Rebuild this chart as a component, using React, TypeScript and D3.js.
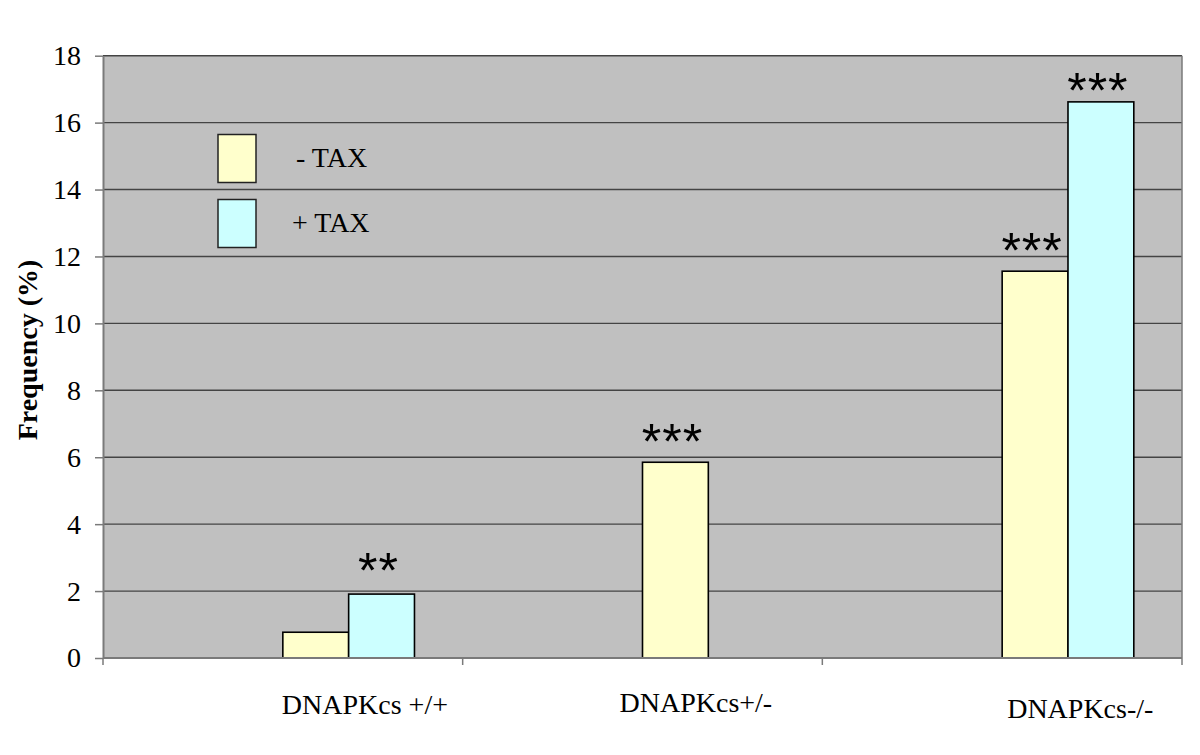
import React, { useRef, useEffect } from 'react';
import * as d3 from 'd3';

// data
const categories = ['DNAPKcs +/+', 'DNAPKcs+/-', 'DNAPKcs-/-'];
const seriesNames = ['- TAX', '+ TAX'];
const minusTax = [0.77, 5.85, 11.56];
const plusTax: (number | null)[] = [1.91, null, 16.62];
const minusTaxStars = ['', '***', '***'];
const plusTaxStars = ['**', '', '***'];
const yTicks = [0, 2, 4, 6, 8, 10, 12, 14, 16, 18];

const seriesColors = ['#FFFFCC', '#CCFFFF'];

// hand-placed text boxes in the original, nudged per category
const labelDx = [-1, -23, 5];
const labelY = [714, 712, 718];
const starDy = [[0, -6], [-3, 0], [-3, 6]];

const W = 1200;
const H = 755;

const App = () => {
    const svgRef = useRef<SVGSVGElement>(null);

    useEffect(() => {
        const svg = d3.select(svgRef.current).attr('width', W).attr('height', H);
        svg.selectAll('*').remove();

        const left = 103, right = 1182, top = 55.7, bottom = 658;

        const x = d3.scaleBand().domain(categories).range([left, right]);
        const bw = x.bandwidth();
        const barW = bw * 0.183;
        // bars start at the centre of each category
        const xSub = d3.scaleBand().domain(seriesNames).range([bw / 2, bw / 2 + 2 * barW]);
        const y = d3.scaleLinear().domain([0, 18]).range([bottom, top]);

        svg.append('rect')
            .attr('x', left).attr('y', top)
            .attr('width', right - left).attr('height', bottom - top)
            .attr('fill', '#C0C0C0');

        // gridlines
        svg.append('g')
            .selectAll('line')
            .data(yTicks.filter(d => d > 0))
            .enter()
            .append('line')
            .attr('x1', left).attr('x2', right)
            .attr('y1', d => y(d)).attr('y2', d => y(d))
            .attr('stroke', '#444')
            .attr('stroke-width', 1.4);

        // right border
        svg.append('line')
            .attr('x1', right).attr('x2', right)
            .attr('y1', top).attr('y2', bottom)
            .attr('stroke', '#7a7a7a').attr('stroke-width', 1.5);

        // bars
        const rows = categories.map((c, i) => [
            { cat: c, s: seriesNames[0], v: minusTax[i], star: minusTaxStars[i], dy: starDy[i][0], color: seriesColors[0] },
            { cat: c, s: seriesNames[1], v: plusTax[i], star: plusTaxStars[i], dy: starDy[i][1], color: seriesColors[1] },
        ]).flat().filter(d => d.v != null) as { cat: string; s: string; v: number; star: string; dy: number; color: string }[];

        svg.append('g')
            .selectAll('rect')
            .data(rows)
            .enter()
            .append('rect')
            .attr('x', d => (x(d.cat) as number) + (xSub(d.s) as number))
            .attr('y', d => y(d.v))
            .attr('width', xSub.bandwidth())
            .attr('height', d => y(0) - y(d.v))
            .attr('fill', d => d.color)
            .attr('stroke', '#000')
            .attr('stroke-width', 1.6);

        // significance stars
        svg.append('g')
            .selectAll('text')
            .data(rows.filter(d => d.star))
            .enter()
            .append('text')
            .attr('x', d => (x(d.cat) as number) + (xSub(d.s) as number) + xSub.bandwidth() / 2 - 3)
            .attr('y', d => y(d.v) + d.dy)
            .attr('text-anchor', 'middle')
            .attr('font-family', '"Liberation Sans", Arial, sans-serif')
            .attr('font-size', 50)
            .attr('letter-spacing', 1)
            .attr('fill', '#000')
            .text(d => d.star);

        // y axis
        const yAxis = svg.append('g')
            .attr('transform', `translate(${left},0)`)
            .call(d3.axisLeft(y).tickValues(yTicks).tickSize(8).tickPadding(14).tickSizeOuter(0));
        yAxis.select('.domain').attr('stroke', '#7a7a7a').attr('stroke-width', 2);
        yAxis.selectAll('.tick line').attr('stroke', '#7a7a7a').attr('stroke-width', 1.5);
        yAxis.selectAll('.tick text')
            .attr('font-family', '"Liberation Serif", "Times New Roman", serif')
            .attr('font-size', 28)
            .attr('fill', '#000');

        // x axis line and ticks at band edges
        svg.append('line')
            .attr('x1', left).attr('x2', right)
            .attr('y1', bottom).attr('y2', bottom)
            .attr('stroke', '#7a7a7a').attr('stroke-width', 2);
        const edges = categories.map(c => x(c) as number).concat([right]);
        svg.append('g')
            .selectAll('line')
            .data(edges)
            .enter()
            .append('line')
            .attr('x1', d => d).attr('x2', d => d)
            .attr('y1', bottom).attr('y2', bottom + 7)
            .attr('stroke', '#7a7a7a').attr('stroke-width', 1.5);

        // category labels
        svg.append('g')
            .selectAll('text')
            .data(categories)
            .enter()
            .append('text')
            .attr('x', (d, i) => (x(d) as number) + bw / 2 + labelDx[i])
            .attr('y', (d, i) => labelY[i])
            .attr('font-family', '"Liberation Serif", "Times New Roman", serif')
            .attr('font-size', 28)
            .attr('fill', '#000')
            .text(d => d);

        // y title
        svg.append('text')
            .attr('transform', 'translate(37,350) rotate(-90)')
            .attr('text-anchor', 'middle')
            .attr('font-family', '"Liberation Serif", "Times New Roman", serif')
            .attr('font-weight', 'bold')
            .attr('font-size', 28)
            .attr('fill', '#000')
            .text('Frequency (%)');

        // legend
        const legend = svg.append('g');
        const legY = [134.5, 199.5];
        const legTextX = [296, 292];
        seriesNames.forEach((s, i) => {
            legend.append('rect')
                .attr('x', 218).attr('y', legY[i])
                .attr('width', 38).attr('height', 48)
                .attr('fill', seriesColors[i])
                .attr('stroke', '#222').attr('stroke-width', 1.5);
            legend.append('text')
                .attr('x', legTextX[i]).attr('y', legY[i] + 32)
                .attr('font-family', '"Liberation Serif", "Times New Roman", serif')
                .attr('font-size', 28)
                .attr('fill', '#000')
                .text(s);
        });
    }, []);

    return (
        <div>
            <style>{'body{margin:0;background:#fff}'}</style>
            <svg ref={svgRef} style={{ display: 'block' }}></svg>
        </div>
    );
};

export default App;
